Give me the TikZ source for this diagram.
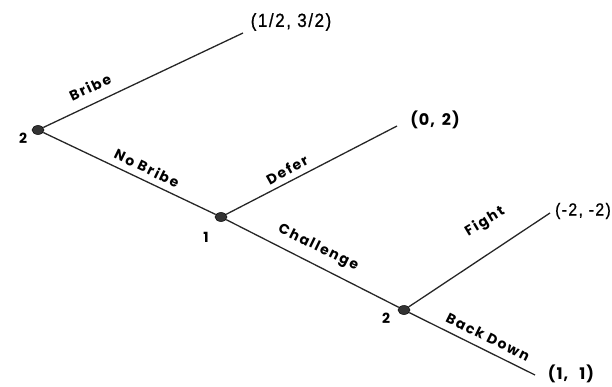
\documentclass[tikz,border=0pt]{standalone}
\usepackage{fontspec}
\usetikzlibrary{shapes.geometric}
\newfontfamily\payfont[FakeStretch=0.9, LetterSpace=8, FakeBold=0.8]{Liberation Sans}
\newfontfamily\geofont[LetterSpace=12]{Poppins}
\newfontfamily\geowide[LetterSpace=6]{Poppins}

\tikzset{
  branch/.style={line width=1.3pt, draw=black!85},
  dnode/.style={ellipse, fill=black!80, draw=black, line width=0.5pt,
    minimum width=12pt, minimum height=9pt, inner sep=0pt},
  act/.style={font=\geofont\bfseries\fontsize{14}{16}\selectfont, inner sep=1pt},
  who/.style={font=\geowide\bfseries\fontsize{14}{16}\selectfont, inner sep=1pt},
  payoff/.style={font=\payfont\fontsize{19}{22}\selectfont, inner sep=0pt},
  payoffs/.style={font=\payfont\fontsize{17.5}{20}\selectfont, inner sep=0pt},
  payoffw/.style={font=\geowide\bfseries\fontsize{16}{18}\selectfont, inner sep=0pt},
}

\begin{document}
\begin{tikzpicture}[x=1pt, y=-1pt]
  \useasboundingbox (0,0) rectangle (612,387);

  % decision nodes
  \node[dnode] (r) at (38,130) {};
  \node[dnode] (m) at (221,217) {};
  \node[dnode] (c) at (404,310) {};

  % terminal points
  \coordinate (tb) at (243,33);
  \coordinate (td) at (397,126);
  \coordinate (tf) at (550,213);
  \coordinate (tk) at (535,375);

  % branches
  \draw[branch] (r) -- (tb);
  \draw[branch] (r) -- (m);
  \draw[branch] (m) -- (td);
  \draw[branch] (m) -- (c);
  \draw[branch] (c) -- (tf);
  \draw[branch] (c) -- (tk);

  % players
  \node[who] (pr) at (23,138) {2};
  \node[who] (pm) at (206,237) {1};
  \node[who] (pc) at (386,318) {2};

  % actions
  \node[act, rotate=25.3] (lb) at (90,87) {Bribe};
  \node[act, rotate=-25.8] (lnb) at (147,168) {No Bribe};
  \node[act, rotate=29] (ld) at (287,170) {Defer};
  \node[act, rotate=-26] (lc) at (318,248) {Challenge};
  \node[act, rotate=31] (lf) at (485,222) {Fight};
  \node[act, rotate=-26.5] (lk) at (488,337) {Back Down};

  % payoffs
  \node[payoff] (pb) at (291,22) {(1/2, 3/2)};
  \node[payoffw] (pd) at (435,120) {(0,\, 2)};
  \node[payoffs, anchor=east] (pf) at (611,211) {(-2, -2)};
  \node[payoffw] (pk) at (571,374) {(1,\ \ \,1)};
\end{tikzpicture}
\end{document}
